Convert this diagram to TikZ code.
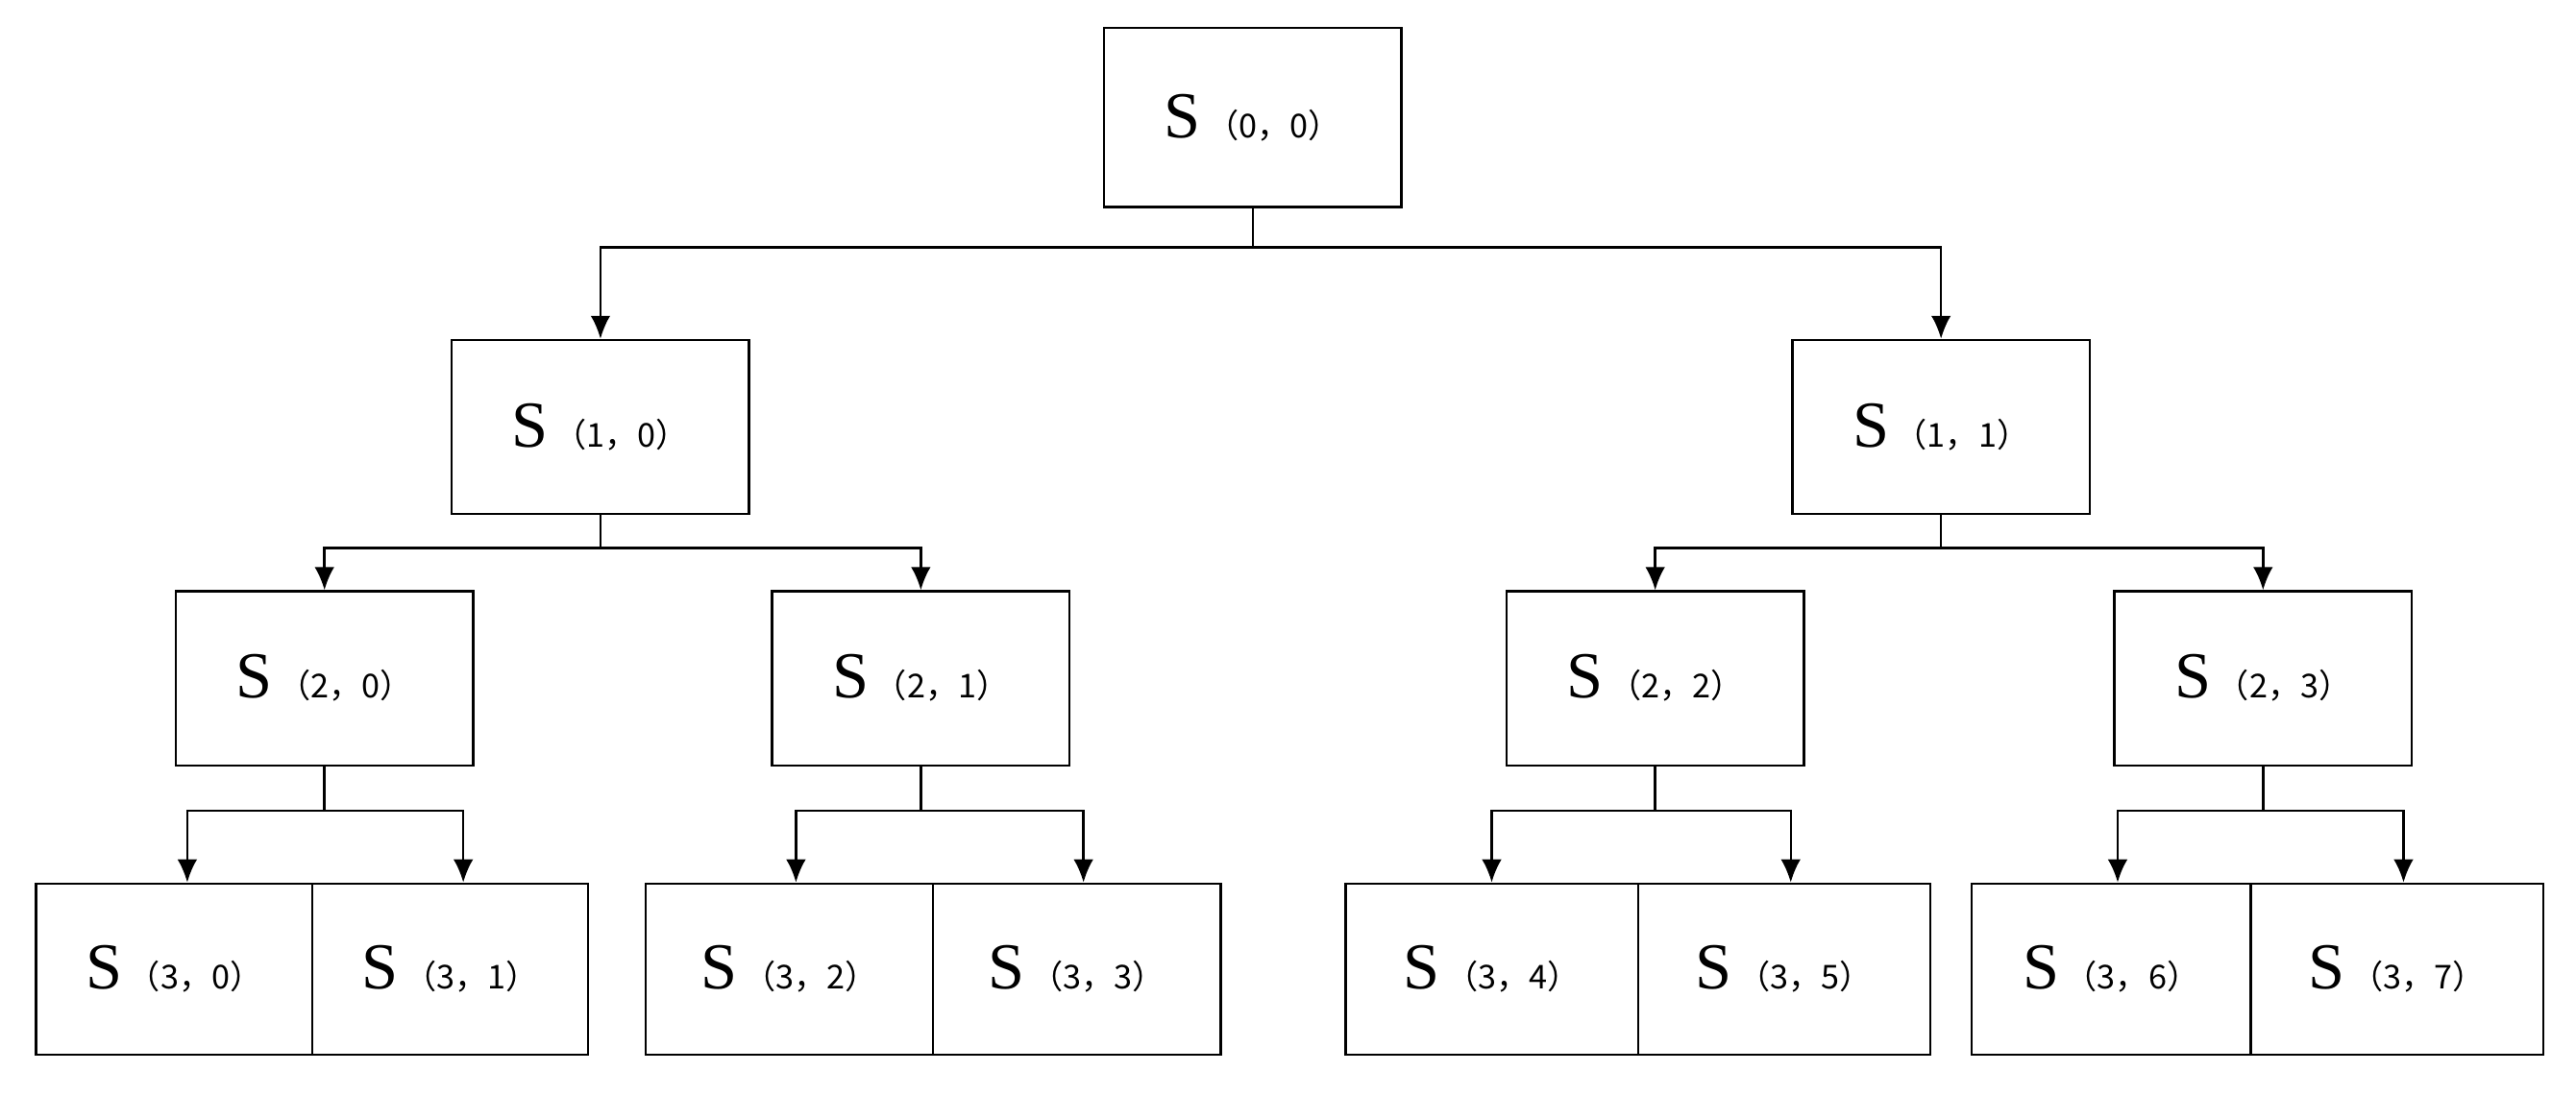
\documentclass[tikz,border=0pt]{standalone}
\usepackage{fontspec}
\setmainfont{Liberation Serif}
\newfontfamily\cjk{Noto Sans CJK SC}
\usetikzlibrary{arrows.meta}
\begin{document}
\begin{tikzpicture}[x=0.5pt,y=-0.5pt,
 box/.style={draw,line width=0.7pt,inner sep=0pt},
 arr/.style={line width=0.7pt,-{Latex[length=7pt,width=6pt]}}]
\useasboundingbox (0,0) rectangle (1568,667);
\newcommand{\lab}[2]{{\fontsize{20}{20}\selectfont S}\,{\cjk\fontsize{10}{10}\selectfont （#1，#2）}}
\newcommand{\bx}[7]{\node[box,minimum width={(#3-#2)*0.5pt},minimum height={(#5-#4)*0.5pt}] (#1) at ({(#2+#3)/2},{(#4+#5)/2}) {\lab{#6}{#7}};}
\bx{s00}{672}{853}{17}{126}{0}{0}
\bx{s10}{275}{456}{207}{313}{1}{0}
\bx{s11}{1091}{1272}{207}{313}{1}{1}
\bx{s20}{107}{288}{360}{466}{2}{0}
\bx{s21}{470}{651}{360}{466}{2}{1}
\bx{s22}{917}{1098}{360}{466}{2}{2}
\bx{s23}{1287}{1468}{360}{466}{2}{3}
\bx{s30}{22}{190}{538}{642}{3}{0}
\bx{s31}{190}{358}{538}{642}{3}{1}
\bx{s32}{393}{568}{538}{642}{3}{2}
\bx{s33}{568}{743}{538}{642}{3}{3}
\bx{s34}{819}{997}{538}{642}{3}{4}
\bx{s35}{997}{1175}{538}{642}{3}{5}
\bx{s36}{1200}{1370}{538}{642}{3}{6}
\bx{s37}{1370}{1548}{538}{642}{3}{7}
\draw[arr] (s00.south) -- ++(0,24) -| (s10.north);
\draw[arr] (s00.south) -- ++(0,24) -| (s11.north);
\foreach \p/\a/\b in {s10/s20/s21,s11/s22/s23}{
 \draw[arr] (\p.south) -- ++(0,20) -| (\a.north);
 \draw[arr] (\p.south) -- ++(0,20) -| (\b.north);}
\foreach \p/\a/\b/\da/\db in {s20/s30/s31/4/4,s21/s32/s33/2/2,s22/s34/s35/0/2,s23/s36/s37/2/2}{
 \draw[arr] (\p.south) -- ++(0,27) -| ([xshift=\da pt]\a.north);
 \draw[arr] (\p.south) -- ++(0,27) -| ([xshift=\db pt]\b.north);}
\end{tikzpicture}
\end{document}
